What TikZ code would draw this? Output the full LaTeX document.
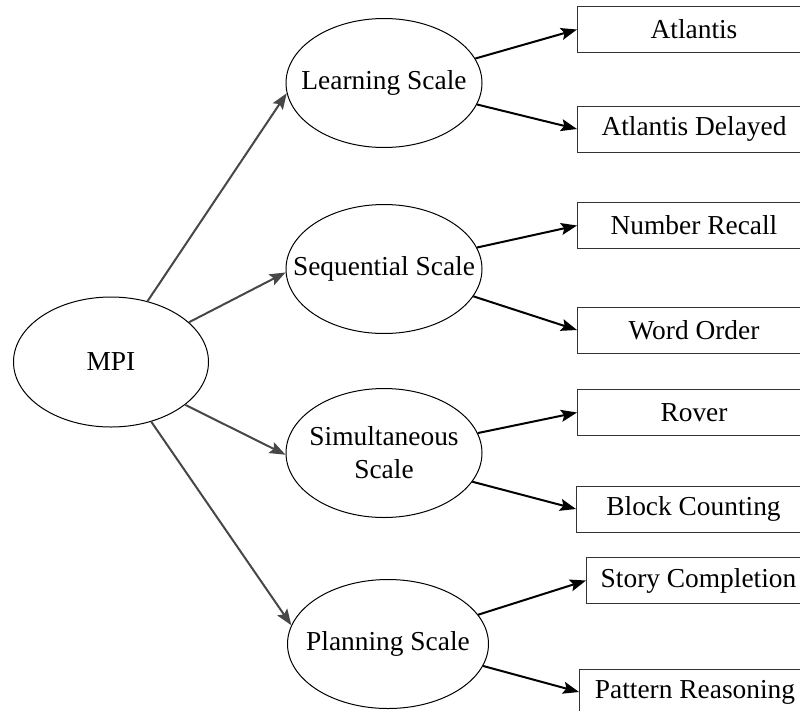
\documentclass[tikz,border=0pt]{standalone}
\usepackage{fontspec}
\setmainfont{Liberation Serif}
\usetikzlibrary{arrows.meta,shapes.geometric}

\begin{document}
\begin{tikzpicture}[
  x=1pt, y=-1pt,
  font=\fontsize{27.4}{33}\selectfont,
  oval/.style={ellipse, draw=black, line width=1pt, align=center,
               minimum width=196pt, minimum height=129pt,
               inner xsep=-25pt, inner ysep=0pt},
  test/.style={draw=black!80, line width=1pt, anchor=west,
               minimum height=46pt, inner sep=0pt},
  branch/.style={-{Stealth[length=16pt,width=12pt,inset=3pt]},
                 line width=2pt, draw=black!72},
  leaf/.style={-{Stealth[length=16pt,width=12pt,inset=3pt]},
               line width=2pt, draw=black}
]
\useasboundingbox (0,0) rectangle (800,710);

\node[oval, minimum width=195pt, minimum height=130pt] (mpi) at (111,362) {MPI};

\node[oval] (learn) at (384,83) {Learning Scale};
\node[oval] (seq) at (384,269) {Sequential Scale};
\node[oval] (simul) at (384,453) {Simultaneous\\Scale};
\node[oval, minimum width=201pt] (plan) at (388,644) {Planning Scale};

% subtests
\node[test, minimum width=233pt] (atlantis) at (577,29.5) {Atlantis};
\node[test, minimum width=233pt] (delayed) at (577,129) {Atlantis Delayed};
\node[test, minimum width=233pt] (recall) at (577,225.5) {Number Recall};
\node[test, minimum width=233pt] (order) at (577,330) {Word Order};
\node[test, minimum width=233pt] (rover) at (577,412.5) {Rover};
\node[test, minimum width=234pt] (block) at (576,509) {Block Counting};
\node[test, minimum width=224pt] (story) at (586,580.5) {Story Completion};
\node[test, minimum width=231pt] (pattern) at (579,692) {Pattern Reasoning};

\draw[branch] (mpi.59) -- (learn.186);
\draw[branch] (mpi.27) -- (seq.182);
\draw[branch] (mpi.-30) -- (simul.181);
\draw[branch] (mpi.-56) -- (plan.169);

\draw[leaf] (learn.15) -- (atlantis.west);
\draw[leaf] (learn.-13) -- (delayed.west);
\draw[leaf] (seq.13) -- (recall.west);
\draw[leaf] (seq.-17) -- (order.west);
\draw[leaf] (simul.12) -- (rover.west);
\draw[leaf] (simul.-18) -- (block.west);
\draw[leaf] (plan.18) -- (story.west);
\draw[leaf] (plan.-13) -- (pattern.west);
\end{tikzpicture}
\end{document}
